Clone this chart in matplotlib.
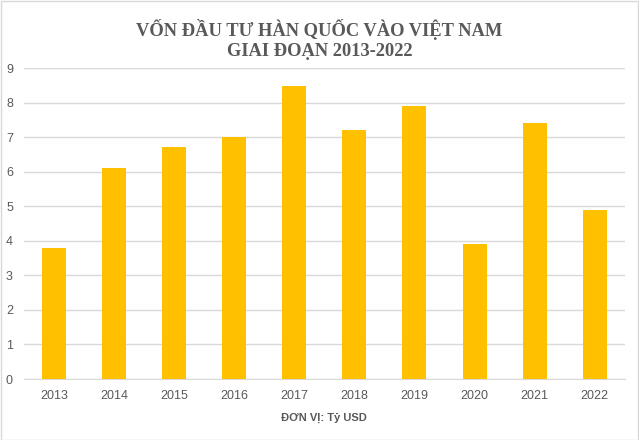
import matplotlib.pyplot as plt
from matplotlib.patches import Rectangle

years = ['2013', '2014', '2015', '2016', '2017', '2018', '2019', '2020', '2021', '2022']
values = [3.8, 6.1, 6.7, 7.0, 8.47, 7.2, 7.9, 3.9, 7.4, 4.9]

fig = plt.figure(figsize=(6.39, 4.4), dpi=100)
ax = fig.add_axes([0.0376, 0.1386, 0.94, 0.7068])

ax.bar(range(len(years)), values, width=0.4, color='#FFC000', zorder=3)
ax.set_xlim(-0.5, len(years) - 0.5)
ax.set_ylim(0, 9)
ax.set_yticks(range(0, 10))
ax.set_xticks(range(len(years)))
ax.set_xticklabels(years)
ax.grid(axis='y', color='#D9D9D9', linewidth=1, zorder=0)
for s in ['top', 'right', 'left']:
    ax.spines[s].set_visible(False)
ax.spines['bottom'].set_color('#D9D9D9')
ax.tick_params(length=0, labelsize=9, colors='#595959', pad=8)
for lbl in ax.get_xticklabels() + ax.get_yticklabels():
    lbl.set_family('Liberation Sans')
ax.set_xlabel('ĐƠN VỊ: Tỷ USD', fontsize=8, fontweight='bold', color='#595959',
              family='Liberation Sans', labelpad=8)

fig.text(0.5, 0.957, 'VỐN ĐẦU TƯ HÀN QUỐC VÀO VIỆT NAM\nGIAI ĐOẠN 2013-2022',
         ha='center', va='top', fontsize=13.3, fontweight='bold', color='#595959',
         family='Liberation Serif', linespacing=1.2)

fig.patches.append(Rectangle((0.001, 0.001), 0.997, 0.997, transform=fig.transFigure,
                             fill=False, edgecolor='#D9D9D9', linewidth=1))

fig.savefig('out.png', dpi=100)
